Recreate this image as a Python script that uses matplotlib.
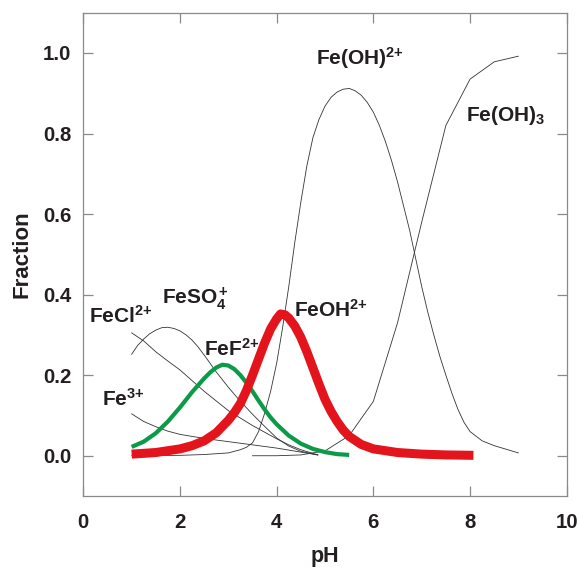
import matplotlib
matplotlib.use("Agg")
import matplotlib.pyplot as plt

plt.rcParams['font.family'] = ['Liberation Sans', 'DejaVu Sans']
plt.rcParams['font.weight'] = 'bold'
plt.rcParams['mathtext.fontset'] = 'custom'
plt.rcParams['mathtext.rm'] = 'Liberation Sans:bold'
plt.rcParams['mathtext.it'] = 'Liberation Sans:bold'
plt.rcParams['mathtext.bf'] = 'Liberation Sans:bold'
plt.rcParams['mathtext.sf'] = 'Liberation Sans:bold'

# ---- data ----
ph_fe3 = [1.0, 1.25, 1.5, 1.75, 2.0, 2.5, 3.0, 3.5, 4.0, 4.5, 4.85]
fe3 = [0.104, 0.085, 0.072, 0.061, 0.053, 0.043, 0.035, 0.027, 0.019, 0.009, 0.002]

ph_fecl = [1.0, 1.25, 1.5, 1.75, 2.0, 2.5, 3.0, 3.5, 4.0, 4.25, 4.5, 4.85]
fecl = [0.305, 0.285, 0.258, 0.235, 0.213, 0.16, 0.112, 0.075, 0.042, 0.027, 0.015, 0.002]

ph_feso4 = [1.0, 1.125, 1.25, 1.375, 1.5, 1.625, 1.75, 1.875, 2.0, 2.125, 2.25, 2.375, 2.5, 2.75,
            3.0, 3.25, 3.5, 3.75, 4.0, 4.25, 4.5, 4.85]
feso4 = [0.252, 0.274, 0.29, 0.303, 0.312, 0.318, 0.319, 0.316, 0.31, 0.3, 0.287, 0.27, 0.25, 0.208,
         0.17, 0.135, 0.103, 0.073, 0.044, 0.024, 0.011, 0.002]

ph_feoh2 = [1.0, 2.0, 2.5, 3.0, 3.25, 3.375, 3.5, 3.625, 3.75, 3.875, 4.0, 4.125, 4.25, 4.375,
            4.5, 4.625, 4.75, 4.875, 5.0, 5.125, 5.25, 5.375, 5.5, 5.625, 5.75, 5.875, 6.0,
            6.125, 6.25, 6.375, 6.5, 6.625, 6.75, 6.875, 7.0, 7.125, 7.25, 7.375, 7.5, 7.625,
            7.75, 7.875, 8.0, 8.25, 8.5, 9.0]
feoh2 = [0.0, 0.001, 0.003, 0.007, 0.015, 0.021, 0.032, 0.06, 0.105, 0.16, 0.23, 0.32, 0.42, 0.53,
         0.63, 0.72, 0.79, 0.835, 0.868, 0.89, 0.903, 0.91, 0.912, 0.906, 0.895, 0.877, 0.853,
         0.82, 0.78, 0.733, 0.68, 0.62, 0.56, 0.49, 0.42, 0.357, 0.3, 0.247, 0.2, 0.155,
         0.115, 0.083, 0.06, 0.037, 0.025, 0.007]

ph_feoh3 = [3.5, 4.0, 4.5, 5.0, 5.5, 6.0, 6.5, 7.0, 7.5, 8.0, 8.5, 9.0]
feoh3 = [0.0, 0.0, 0.002, 0.012, 0.05, 0.135, 0.33, 0.58, 0.82, 0.935, 0.978, 0.992]

ph_feoh = [1.0, 1.5, 2.0, 2.25, 2.5, 2.75, 3.0, 3.125, 3.25, 3.375, 3.5, 3.625, 3.75, 3.875,
           4.0, 4.08, 4.17, 4.25, 4.375, 4.5, 4.625, 4.75, 4.875, 5.0, 5.125, 5.25, 5.375,
           5.5, 5.75, 6.0, 6.5, 7.0, 7.5, 8.07]
feoh = [0.004, 0.008, 0.017, 0.025, 0.037, 0.057, 0.088, 0.107, 0.13, 0.162, 0.2, 0.24, 0.28, 0.315,
        0.34, 0.352, 0.35, 0.342, 0.322, 0.294, 0.258, 0.218, 0.178, 0.14, 0.11, 0.085, 0.064,
        0.048, 0.028, 0.017, 0.008, 0.004, 0.002, 0.001]

ph_fef = [1.0, 1.25, 1.5, 1.75, 2.0, 2.25, 2.5, 2.625, 2.75, 2.875, 3.0, 3.125, 3.25, 3.375,
          3.5, 3.625, 3.75, 3.875, 4.0, 4.25, 4.5, 4.75, 5.0, 5.25, 5.5]
fef = [0.022, 0.035, 0.056, 0.085, 0.12, 0.158, 0.192, 0.207, 0.219, 0.226, 0.224, 0.215, 0.2, 0.181,
       0.16, 0.137, 0.115, 0.095, 0.078, 0.05, 0.03, 0.017, 0.009, 0.004, 0.002]

labels = ['FeCl$^{2{+}}$', 'FeSO$_4^{\\,{+}}$', 'FeF$^{2{+}}$', 'Fe$^{3{+}}$',
          'Fe(OH)$^{2{+}}$', 'Fe(OH)$_3$', 'FeOH$^{2{+}}$']
label_x = [0.11, 1.63, 2.49, 0.39, 4.82, 7.91, 4.35]
label_y = [0.331, 0.377, 0.248, 0.124, 0.970, 0.830, 0.344]

xticks = [0, 2, 4, 6, 8, 10]
yticks = [0.0, 0.2, 0.4, 0.6, 0.8, 1.0]

# ---- figure ----
fig = plt.figure(figsize=(5.79, 5.67), dpi=100)
ax = fig.add_axes([0.1439, 0.1252, 0.9788 - 0.1439, 0.9776 - 0.1252])

thin = dict(color='#333333', lw=0.6, solid_joinstyle='round')
ax.plot(ph_fe3, fe3, **thin)
ax.plot(ph_fecl, fecl, **thin)
ax.plot(ph_feso4, feso4, **thin)
ax.plot(ph_feoh2, feoh2, **thin)
ax.plot(ph_feoh3, feoh3, **thin)
ax.plot(ph_fef, fef, color='#0a9a48', lw=3.0, solid_capstyle='butt', solid_joinstyle='round', zorder=3)
ax.plot(ph_feoh, feoh, color='#e3141c', lw=6.5, solid_capstyle='butt', solid_joinstyle='round', zorder=4)

for t, x, y in zip(labels, label_x, label_y):
    ax.text(x, y, t, fontsize=15, fontweight='bold', color='#231f20',
            ha='left', va='baseline', zorder=5)

ax.set_xlim(0, 10)
ax.set_ylim(-0.1, 1.1)
ax.set_xticks(xticks)
ax.set_xticklabels([str(v) for v in xticks])
ax.set_yticks(yticks)
ax.set_yticklabels([f"{v:.1f}" for v in yticks])

ax.tick_params(axis='both', direction='in', length=7.5, width=0.9, color='#8a8a8a',
               top=True, right=True, labelsize=14.7, labelcolor='#231f20')
ax.tick_params(axis='x', pad=12)
ax.tick_params(axis='y', pad=8.5)
for lab in ax.get_xticklabels() + ax.get_yticklabels():
    lab.set_fontweight('bold')

for s in ax.spines.values():
    s.set_color('#8a8a8a')
    s.set_linewidth(0.9)

ax.set_xlabel('pH', fontsize=15.5, fontweight='bold', color='#231f20', labelpad=10)
ax.set_ylabel('Fraction', fontsize=16, fontweight='bold', color='#231f20', labelpad=7.5)

fig.savefig('out.png', dpi=100, facecolor='white')
